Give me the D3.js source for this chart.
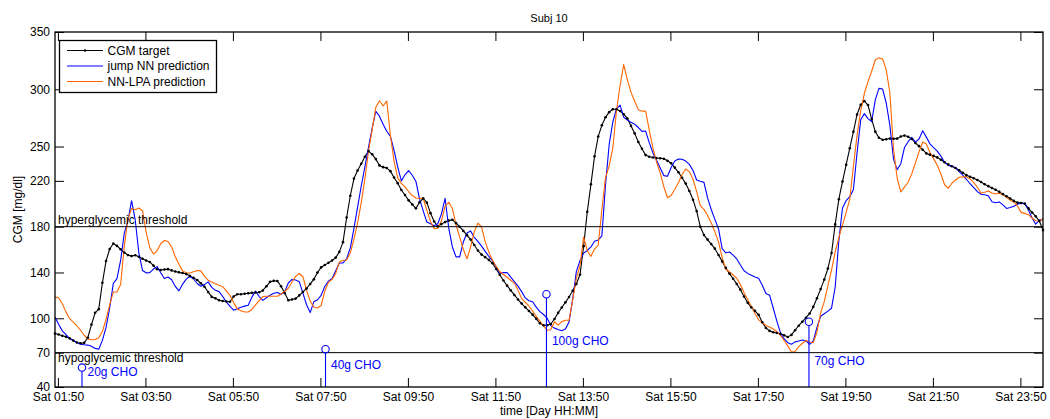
<!DOCTYPE html>
<html>
<head>
<meta charset="utf-8">
<script src="https://cdn.jsdelivr.net/npm/d3@7"></script>
<style>
  body { margin: 0; background: #fff; }
  svg { display: block; font-family: "Liberation Sans", Arial, Helvetica, sans-serif; }
  .axis text { font-size: 12px; fill: #000; }
  .axis line { stroke: #000; }
  .axis path { display: none; }
</style>
</head>
<body>
<div id="chart"></div>
<script>
// Sampling: one value every 5 minutes, starting Saturday 01:46
const START = new Date(2014, 2, 1, 1, 46);
const STEP_MIN = 5;

// CGM target (mg/dl)
const cgmTarget = [
  86.7, 85.8, 84.8, 83.8, 82.5, 80.6, 78.8, 78.2, 78.5, 83,
  94.5, 104.8, 108, 131, 150, 160.5, 165.3, 163.2, 160.3, 157.4,
  155.2, 154.3, 155, 153.8, 152, 150.5, 149.2, 146, 142.8, 142.1,
  142.6, 142.9, 141.8, 140.8, 140.1, 139.5, 138.6, 137, 135.3, 133.5,
  130.6, 127.6, 123, 118.7, 117.4, 115.8, 115.1, 114.7, 114.4, 119,
  121, 121, 121.4, 121.8, 122.2, 122.5, 122.8, 124.3, 128, 131.8,
  132.7, 132.5, 128, 122, 115.8, 116.4, 117.2, 120, 123, 126,
  130, 134, 140, 144.5, 146.5, 148.4, 150.5, 153, 158, 166.5,
  188, 207, 222, 229, 235, 241, 246, 243.2, 239, 233.5,
  232, 231.2, 228.5, 223, 218, 212, 207.7, 203, 199.4, 196,
  201.3, 204.7, 201, 191.8, 184.5, 180.2, 182.4, 184, 185.3, 186,
  183.1, 180, 176.3, 172.6, 168.7, 164, 159.2, 155.6, 153.4, 151,
  148, 143, 138, 133, 128.5, 124.4, 120.4, 116.4, 112.9, 109.6,
  106.4, 103.2, 99.5, 95.7, 93.9, 93.9, 95, 99.4, 104.7, 109.4,
  113.9, 118.6, 124, 130, 138, 163, 193, 217, 241.5, 258.8,
  268.5, 275.5, 280, 282.5, 282.5, 281, 278.2, 274.5, 268, 261.5,
  254, 248, 242.5, 241, 240.4, 240, 239.8, 239.3, 237.5, 235.4,
  231.6, 227.5, 222.7, 217.6, 211.2, 203.5, 193.6, 180, 172.7, 168.7,
  164.8, 160.8, 155.3, 149.7, 144, 139, 134.5, 130, 125, 119,
  113.5, 109.5, 106.5, 103, 96.5, 91.5, 89, 87.8, 87.1, 86.4,
  85.2, 83.7, 85.5, 89.6, 93.5, 97, 100.5, 104.2, 110, 117.5,
  125.5, 133.8, 143.5, 157, 182, 204, 219.4, 234, 248.5, 263,
  278, 286.5, 289.7, 286.2, 274, 263, 257.7, 255.8, 256.4, 257,
  256.8, 256.9, 258.8, 259.6, 258.5, 256.6, 253.1, 250.3, 247.2, 244,
  242.9, 241.8, 240.5, 238.4, 236.2, 234.4, 232.8, 231.2, 229.2, 227.1,
  225, 223.6, 222.3, 220.8, 219, 217.1, 215.4, 213.8, 212.2, 210.4,
  208.4, 206.6, 204.6, 202.5, 201, 200.6, 200.1, 196, 192.4, 189,
  185, 177
];

// jump NN prediction (mg/dl)
const jumpNN = [
  101, 94.8, 89, 85.8, 82.5, 80.6, 78.8, 77.3, 76.9, 76.6,
  75.6, 73.7, 73, 80.7, 92, 109, 130.5, 134.7, 150.5, 174.3,
  184.8, 202.7, 186, 157, 141.8, 139.7, 139.9, 143, 145.1, 139.8,
  134.8, 136, 133.7, 127.8, 124, 129.8, 134.2, 136.7, 134.3, 130.4,
  128, 129.4, 131.8, 127, 124.4, 123.3, 119, 114.3, 110.4, 107.1,
  108.4, 109.7, 110.6, 111.4, 118.5, 123.7, 119, 115.6, 117.9, 120.2,
  121.8, 122.6, 121, 123.2, 130.8, 133.9, 133.4, 132, 122, 111.8,
  105, 114.5, 116.2, 120, 127.8, 132.5, 134.8, 141.5, 148.3, 148.3,
  152, 161.5, 178.5, 197, 215.5, 232.3, 249.5, 266, 280.8, 276.5,
  269.5, 263.3, 258.8, 246.7, 232.3, 219.9, 225.3, 229, 224.9, 219.5,
  204, 193.8, 184, 182.5, 180.9, 182.6, 191.2, 204.7, 178.8, 162.3,
  153.6, 153.6, 166.6, 174.4, 176.2, 170.6, 167.1, 163, 158.4, 154,
  150, 145, 139.2, 139.9, 140, 135.9, 132, 128.1, 123.3, 117.8,
  115.3, 114.4, 109.8, 105.8, 103.3, 100.1, 93.6, 91.4, 90.2, 89.1,
  90.6, 96.7, 116.9, 140.7, 150.4, 156.9, 159.2, 162.3, 167.3, 168.4,
  171.9, 216.5, 251.6, 271.4, 282.8, 286.2, 275.6, 273.2, 271.1, 269.5,
  266.6, 263.2, 263.5, 253.4, 244.4, 238, 231.3, 224.6, 224.1, 231.6,
  237.4, 239, 238.9, 237.3, 234.4, 229, 220.8, 219.7, 218.7, 205.1,
  195, 186.4, 178, 160.8, 157.2, 157.9, 155.2, 151.8, 146.5, 141.5,
  139.2, 137.6, 136.1, 134.9, 128.8, 121.6, 120.2, 109, 97.5, 87.2,
  82, 78.7, 77.4, 79.4, 80.1, 81, 80.4, 77.3, 80.3, 92,
  101.8, 104, 106.3, 108.8, 127.3, 167.7, 196.3, 202.7, 206.2, 212.5,
  244.5, 273.3, 278.7, 274.4, 271.8, 290.7, 300.8, 300.2, 288, 268.4,
  239, 229.8, 235, 249.1, 254.2, 258.1, 253.9, 256.6, 263.8, 258.2,
  252.4, 249.1, 246, 241.6, 236.3, 233.5, 232.8, 231.5, 228.1, 225.1,
  221.4, 217.5, 214, 210.6, 208.3, 207.9, 207, 201.7, 200.9, 201.6,
  199, 195.9, 196.7, 197.8, 199.7, 200.7, 200.1, 194.6, 187.6, 182.2,
  185.7, 186.3
];

// NN-LPA prediction (mg/dl)
const nnLPA = [
  118.7, 117.7, 112.7, 105.6, 99.9, 96.7, 93.5, 89.6, 85.2, 82,
  81.2, 81.4, 83, 88.4, 99.3, 111.8, 123, 123, 129.5, 163,
  186.8, 195.8, 194.8, 196.3, 193.9, 175.2, 161.7, 156.1, 158.9, 165.1,
  167.9, 167, 162.2, 153.7, 147.1, 141.4, 139.7, 139.6, 140.6, 141.8,
  141.4, 136.6, 133.3, 131.7, 130.2, 128.8, 127.6, 124, 119.9, 113.7,
  108.2, 106.5, 105.5, 105.5, 107.7, 111.7, 115.4, 118.9, 119.3, 119.3,
  119.3, 119.3, 121.2, 123.6, 126.2, 131.7, 136.6, 139.1, 136.3, 124.5,
  115, 109.8, 109, 111.1, 123.6, 131.4, 134, 139.2, 149.2, 150.7,
  150.8, 157.2, 169.1, 183.3, 201, 221.8, 246.1, 264.8, 284.2, 290,
  285.4, 289.6, 259.6, 237.3, 222.6, 217.8, 214.7, 210.7, 207.2, 205.1,
  204.7, 204.7, 194.3, 184.6, 178.2, 178.6, 185.1, 198, 201.3, 195.8,
  181.7, 170.8, 160.3, 151.9, 162.4, 175.5, 183.1, 179.8, 167, 157.8,
  150.6, 145.5, 140.6, 138.2, 135.8, 133.2, 130.7, 124.6, 117.2, 114,
  110.7, 106.4, 101.6, 97.5, 93.4, 89.6, 90, 97, 94, 97.1,
  98.3, 98.3, 116, 134.8, 145.7, 170.9, 159, 154.1, 160.4, 164,
  195, 222.6, 233.1, 248.5, 280.9, 303.5, 321.5, 308.2, 297.3, 289.6,
  282.2, 280.8, 281, 264.3, 248.8, 236.5, 227, 214.9, 205.3, 207.3,
  212.7, 218.4, 225.6, 230.4, 228.1, 221.4, 210.6, 198.4, 195.1, 189.7,
  183.3, 175.5, 166.7, 152.9, 142.8, 140.4, 137.8, 135, 129.5, 122.3,
  116.1, 110.2, 104.1, 98.6, 96.3, 93.8, 92.3, 90.6, 88.3, 85,
  80.6, 75.9, 70.6, 71, 75.3, 78.2, 80.6, 79.3, 78.7, 88,
  104.5, 114.5, 128.2, 142.3, 158, 170.4, 181.3, 192.3, 204, 233,
  260, 281.2, 296.5, 306.7, 315.7, 325.8, 327.4, 326.4, 317.2, 296.7,
  247.8, 222.3, 210.3, 214.6, 218.8, 226.1, 235.6, 245.3, 253.9, 252.2,
  244.7, 239.2, 233.6, 226, 216.6, 213.5, 217.9, 220.8, 223.2, 223.5,
  223.5, 221.7, 218.5, 214.5, 209.4, 210.1, 211.1, 209.4, 208.6, 209.2,
  208, 205.6, 203, 201.6, 198, 192.5, 191.6, 190.5, 187.6, 185.2,
  185, 187.2
];

// Meals: time, grams of carbohydrate, stem height and label height (mg/dl)
const choTimes = ["02:23", "07:57", "13:00", "19:00"];
const choGrams = [20, 40, 100, 70];
const choMarkerLevel = [57, 73, 121, 97];
const choLabelLevel = [50, 55.5, 76.5, 59];

// Axis ticks
const xTickLabels = ["01:50", "03:50", "05:50", "07:50", "09:50", "11:50",
  "13:50", "15:50", "17:50", "19:50", "21:50", "23:50"];
const yTicks = [40, 70, 100, 140, 180, 220, 250, 300, 350];
const yDomain = [40, 350];

const thresholdNames = ["hyperglycemic threshold", "hypoglycemic threshold"];
const thresholdValues = [180, 70];

const seriesNames = ["CGM target", "jump NN prediction", "NN-LPA prediction"];
const seriesColors = ["#000000", "#0000ff", "#ff6600"];

// --- helpers ---
const timeAt = (i) => d3.timeMinute.offset(START, i * STEP_MIN);
const clock = (s) => {
  const [h, m] = s.split(":").map(Number);
  return new Date(2014, 2, 1, h, m);
};

const width = 1050;
const height = 419;
const margin = { top: 32, right: 7, bottom: 32, left: 55 };
const innerWidth = width - margin.left - margin.right;
const innerHeight = height - margin.top - margin.bottom;

const svg = d3.select("#chart").append("svg")
  .attr("width", width)
  .attr("height", height)
  .attr("viewBox", `0 0 ${width} ${height}`);

const plot = svg.append("g").attr("transform", `translate(${margin.left}, ${margin.top})`);

const x = d3.scaleTime()
  .domain([START, timeAt(cgmTarget.length - 1)])
  .range([0, innerWidth]);
const y = d3.scaleLinear().domain(yDomain).range([innerHeight, 0]);

// Axes: MATLAB-style inward ticks on all four sides
const xTicks = xTickLabels.map(clock);
const tickLen = 9;

plot.append("g").attr("class", "axis")
  .attr("transform", `translate(0, ${innerHeight})`)
  .call(d3.axisBottom(x).tickValues(xTicks).tickSize(-tickLen).tickPadding(5.5)
    .tickFormat(d3.timeFormat("%a %H:%M")));

plot.append("g").attr("class", "axis")
  .call(d3.axisTop(x).tickValues(xTicks).tickSize(-tickLen))
  .call((g) => g.selectAll("text").remove());

plot.append("g").attr("class", "axis")
  .call(d3.axisLeft(y).tickValues(yTicks).tickSize(-tickLen).tickPadding(5));

plot.append("g").attr("class", "axis")
  .attr("transform", `translate(${innerWidth}, 0)`)
  .call(d3.axisRight(y).tickValues(yTicks).tickSize(-tickLen))
  .call((g) => g.selectAll("text").remove());

// Series lines
const line = d3.line()
  .x((d, i) => x(timeAt(i)))
  .y((d) => y(d));

const series = [cgmTarget, jumpNN, nnLPA];
plot.append("g").selectAll("path")
  .data(series)
  .join("path")
  .attr("fill", "none")
  .attr("stroke", (d, i) => seriesColors[i])
  .attr("stroke-width", 1.1)
  .attr("stroke-linejoin", "round")
  .attr("d", line);

// Dot markers on the CGM target
plot.append("g").selectAll("circle")
  .data(cgmTarget)
  .join("circle")
  .attr("cx", (d, i) => x(timeAt(i)))
  .attr("cy", (d) => y(d))
  .attr("r", 1.3)
  .attr("fill", "#000");

// Thresholds
const thresholds = plot.append("g");
thresholds.selectAll("line")
  .data(thresholdValues)
  .join("line")
  .attr("x1", 0)
  .attr("x2", innerWidth)
  .attr("y1", (d) => y(d))
  .attr("y2", (d) => y(d))
  .attr("stroke", "#000")
  .attr("stroke-width", 1);

thresholds.selectAll("text")
  .data(thresholdValues)
  .join("text")
  .attr("x", 3)
  .attr("y", (d, i) => (i === 0 ? y(d) - 3 : y(d) + 9.5))
  .attr("font-size", 12)
  .attr("fill", "#000")
  .text((d, i) => thresholdNames[i]);

// Carbohydrate intake stems
const meals = choTimes.map((t, i) => ({
  time: clock(t),
  grams: choGrams[i],
  level: choMarkerLevel[i],
  labelLevel: choLabelLevel[i]
}));

const stems = plot.append("g").selectAll("g").data(meals).join("g");
stems.append("line")
  .attr("x1", (d) => x(d.time))
  .attr("x2", (d) => x(d.time))
  .attr("y1", y(yDomain[0]))
  .attr("y2", (d) => y(d.level) + 3.7)
  .attr("stroke", seriesColors[1])
  .attr("stroke-width", 1.1);
stems.append("circle")
  .attr("cx", (d) => x(d.time))
  .attr("cy", (d) => y(d.level))
  .attr("r", 3.7)
  .attr("fill", "none")
  .attr("stroke", seriesColors[1])
  .attr("stroke-width", 1.1);
stems.append("text")
  .attr("x", (d) => x(d.time) + 5.5)
  .attr("y", (d) => y(d.labelLevel))
  .attr("font-size", 12)
  .attr("fill", seriesColors[1])
  .text((d) => `${d.grams}g CHO`);

// Plot box
plot.append("rect")
  .attr("width", innerWidth)
  .attr("height", innerHeight)
  .attr("fill", "none")
  .attr("stroke", "#000")
  .attr("stroke-width", 1.3);

// Legend in the top-left corner
const legend = plot.append("g").attr("transform", "translate(4.5, 8.5)");
legend.append("rect")
  .attr("width", 157)
  .attr("height", 52)
  .attr("fill", "#fff")
  .attr("stroke", "#000")
  .attr("stroke-width", 1.3);

const items = legend.selectAll("g.item")
  .data(seriesNames)
  .join("g")
  .attr("class", "item")
  .attr("transform", (d, i) => `translate(0, ${10 + i * 15.5})`);
items.append("line")
  .attr("x1", 7.5)
  .attr("x2", 43.5)
  .attr("stroke", (d, i) => seriesColors[i])
  .attr("stroke-width", 1.1);
items.filter((d, i) => i === 0).append("circle")
  .attr("cx", 25.5)
  .attr("r", 1.3)
  .attr("fill", "#000");
items.append("text")
  .attr("x", 48)
  .attr("dy", "0.35em")
  .attr("font-size", 12)
  .attr("fill", "#000")
  .text((d) => d);

// Titles
svg.append("text")
  .attr("x", margin.left + innerWidth / 2)
  .attr("y", 22)
  .attr("text-anchor", "middle")
  .attr("font-size", 11)
  .text("Subj 10");

svg.append("text")
  .attr("x", margin.left + innerWidth / 2)
  .attr("y", 415)
  .attr("text-anchor", "middle")
  .attr("font-size", 12)
  .text("time [Day HH:MM]");

svg.append("text")
  .attr("transform", `translate(22, ${margin.top + innerHeight / 2}) rotate(-90)`)
  .attr("text-anchor", "middle")
  .attr("font-size", 12)
  .text("CGM [mg/dl]");
</script>
</body>
</html>
